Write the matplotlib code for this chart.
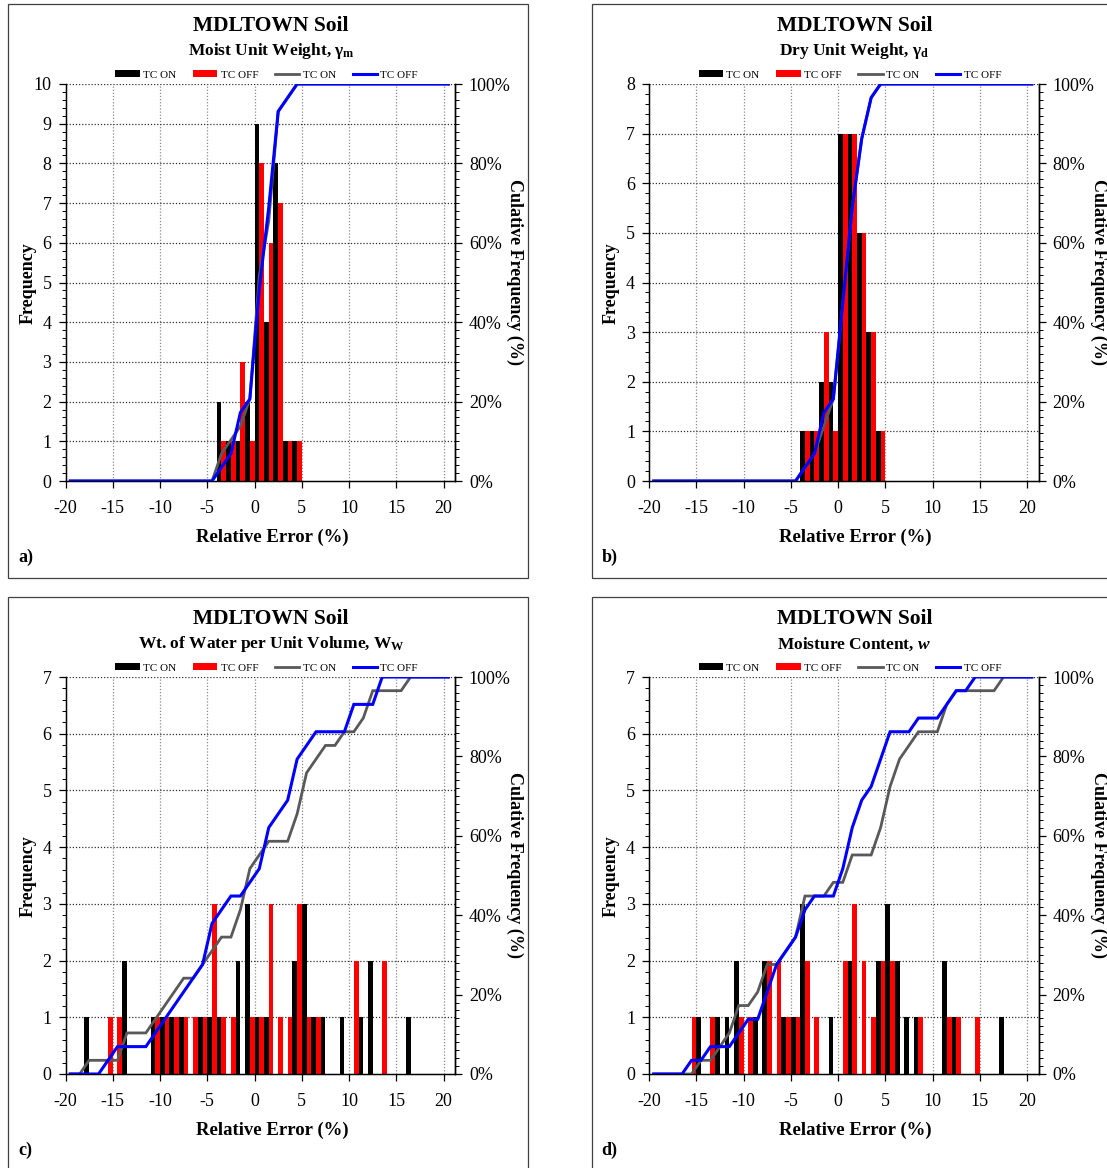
import numpy as np
import matplotlib
matplotlib.use('Agg')
import matplotlib.pyplot as plt
from matplotlib.patches import Rectangle, Patch
from matplotlib.lines import Line2D
from matplotlib.ticker import MultipleLocator, FuncFormatter

plt.rcParams['font.family'] = ['Liberation Serif', 'DejaVu Serif']
plt.rcParams['mathtext.fontset'] = 'custom'
plt.rcParams['mathtext.rm'] = 'Liberation Serif'
plt.rcParams['mathtext.bf'] = 'Liberation Serif:bold'
plt.rcParams['mathtext.it'] = 'Liberation Serif:italic:bold'
plt.rcParams['axes.unicode_minus'] = False

W, H = 1107, 1168

# ---------------- data ----------------
bins = list(range(-20, 21))
x_ticks = [-20, -15, -10, -5, 0, 5, 10, 15, 20]
legend_labels = ["TC ON", "TC OFF", "TC ON", "TC OFF"]

titles = ["MDLTOWN Soil"] * 4
subtitles = [r"Moist Unit Weight, γ$_{\mathbf{m}}$",
             r"Dry Unit Weight, γ$_{\mathbf{d}}$",
             r"Wt. of Water per Unit Volume, W$_{\mathbf{W}}$",
             r"Moisture Content, $\mathit{w}$"]
letters = ["a)", "b)", "c)", "d)"]
freq_max = [10, 8, 7, 7]

#          -20..-16     -15..-11     -10..-6      -5..-1       0..4         5..9         10..14       15..19      20
a_on  = [0,0,0,0,0,  0,0,0,0,0,  0,0,0,0,0,  0,2,1,1,2,  9,4,8,1,1,  0,0,0,0,0,  0,0,0,0,0,  0,0,0,0,0,  0]
a_off = [0,0,0,0,0,  0,0,0,0,0,  0,0,0,0,0,  0,1,1,3,1,  8,6,7,1,1,  0,0,0,0,0,  0,0,0,0,0,  0,0,0,0,0,  0]
b_on  = [0,0,0,0,0,  0,0,0,0,0,  0,0,0,0,0,  0,1,1,2,2,  7,7,5,3,1,  0,0,0,0,0,  0,0,0,0,0,  0,0,0,0,0,  0]
b_off = [0,0,0,0,0,  0,0,0,0,0,  0,0,0,0,0,  0,1,1,3,1,  7,7,5,3,1,  0,0,0,0,0,  0,0,0,0,0,  0,0,0,0,0,  0]
c_on  = [0,0,1,0,0,  0,2,0,0,1,  1,1,1,0,1,  1,1,0,2,3,  1,1,0,0,2,  3,1,1,0,1,  0,1,2,0,0,  0,1,0,0,0,  0]
c_off = [0,0,0,0,1,  1,0,0,0,1,  1,1,1,1,1,  3,1,1,0,1,  1,3,1,1,3,  1,1,0,0,0,  2,0,0,2,0,  0,0,0,0,0,  0]
d_on  = [0,0,0,0,0,  1,0,1,1,2,  0,1,2,0,1,  1,3,0,0,1,  0,2,0,0,2,  3,2,1,1,0,  0,2,1,0,0,  0,0,1,0,0,  0]
d_off = [0,0,0,0,1,  0,1,0,0,1,  1,0,2,2,1,  1,2,1,0,0,  2,3,2,1,2,  2,0,0,1,0,  0,1,1,0,1,  0,0,0,0,0,  0]

on_sets = [a_on, b_on, c_on, d_on]
off_sets = [a_off, b_off, c_off, d_off]

# ---------------- layout ----------------
fig = plt.figure(figsize=(W / 100, H / 100), dpi=100)

def fx(px):
    return px / W

def fy(py):
    return 1 - py / H

offsets = [(0, 0), (583.5, 0), (0, 593), (583.5, 593)]
AX_L, AX_R, AX_T, AX_B = 65.5, 455, 84, 481

for i in range(4):
    dx, dy = offsets[i]
    # panel frame
    fig.add_artist(Rectangle((fx(8 + dx), fy(578 + dy)), fx(520), 574 / H,
                             transform=fig.transFigure, fill=False,
                             edgecolor='#404040', linewidth=0.9))
    ax = fig.add_axes([fx(AX_L + dx), fy(AX_B + dy),
                       fx(AX_R - AX_L), (AX_B - AX_T) / H])
    x = np.array(bins, dtype=float)
    ax.bar(x, on_sets[i], width=0.5, align='edge', color='#000000', linewidth=0)
    ax.bar(x + 0.5, off_sets[i], width=0.5, align='edge', color='#ff0000', linewidth=0)
    ax.set_xlim(-20, 21.2)
    ax.set_ylim(0, freq_max[i])
    ax.set_axisbelow(True)
    ax.yaxis.set_major_locator(MultipleLocator(1))
    ax.yaxis.set_minor_locator(MultipleLocator(0.2))
    ax.set_xticks(x_ticks)
    ax.set_xticklabels([str(t) for t in x_ticks])
    ax.tick_params(axis='both', which='major', labelsize=13, direction='out',
                   length=5, width=0.9, colors='black')
    ax.tick_params(axis='x', pad=9)
    ax.tick_params(axis='y', which='minor', direction='out', length=3, width=0.7)
    ax.tick_params(axis='y', pad=5)
    for t in x_ticks[1:]:
        ax.axvline(t, color='#8a8a8a', linestyle=(0, (1, 1.5)), linewidth=0.9, zorder=0)
    for v in range(1, freq_max[i] + 1):
        ax.axhline(v, color='#303030', linestyle=(0, (1, 1.5)), linewidth=0.9, zorder=0)
    ax.spines['top'].set_visible(False)
    for s in ['left', 'bottom', 'right']:
        ax.spines[s].set_linewidth(1.0)

    ax2 = ax.twinx()
    on_arr = np.array(on_sets[i], dtype=float)
    off_arr = np.array(off_sets[i], dtype=float)
    cum_on = np.cumsum(on_arr) / on_arr.sum() * 100
    cum_off = np.cumsum(off_arr) / off_arr.sum() * 100
    ax2.plot(x + 0.5, cum_on, color='#595959', linewidth=2.0, solid_joinstyle='miter')
    ax2.plot(x + 0.5, cum_off, color='#0000ff', linewidth=2.2, solid_joinstyle='miter')
    ax2.set_ylim(0, 100)
    ax2.yaxis.set_major_locator(MultipleLocator(20))
    ax2.yaxis.set_minor_locator(MultipleLocator(2))
    ax2.yaxis.set_major_formatter(FuncFormatter(lambda v, p: f"{int(round(v))}%"))
    ax2.tick_params(axis='y', which='major', labelsize=13, direction='out', length=5,
                    width=0.9, pad=5)
    ax2.tick_params(axis='y', which='minor', direction='out', length=3, width=0.7)
    ax2.spines['top'].set_visible(False)
    ax2.spines['right'].set_linewidth(1.0)

    cx = 271 + dx
    fig.text(fx(cx), fy(26 + dy), titles[i], ha='center', va='center',
             fontsize=15.5, fontweight='bold')
    fig.text(fx(cx), fy(51 + dy), subtitles[i], ha='center', va='center',
             fontsize=12.5, fontweight='bold')
    fig.text(fx(28 + dx), fy(283 + dy), "Frequency", rotation=90, ha='center',
             va='center', fontsize=13, fontweight='bold')
    fig.text(fx(515 + dx), fy(272 + dy), "Culative Frequency (%)", rotation=-90,
             ha='center', va='center', fontsize=13, fontweight='bold')
    fig.text(fx(272 + dx), fy(537 + dy), "Relative Error (%)", ha='center',
             va='center', fontsize=13.5, fontweight='bold')
    fig.text(fx(18 + dx), fy(557 + dy), letters[i], ha='left', va='center',
             fontsize=13, fontweight='bold')

    handles = [Patch(facecolor='#000000', edgecolor='none'),
               Patch(facecolor='#ff0000', edgecolor='none'),
               Line2D([0], [0], color='#595959', linewidth=2.0),
               Line2D([0], [0], color='#0000ff', linewidth=2.2)]
    fig.legend(handles, legend_labels, loc='center',
               bbox_to_anchor=(fx(266.5 + dx), fy(75 + dy)), ncol=4, frameon=False,
               fontsize=8, handlelength=2.2, handleheight=0.6, handletextpad=0.3,
               columnspacing=1.5, borderpad=0, borderaxespad=0)

fig.savefig('out.png', dpi=100)
